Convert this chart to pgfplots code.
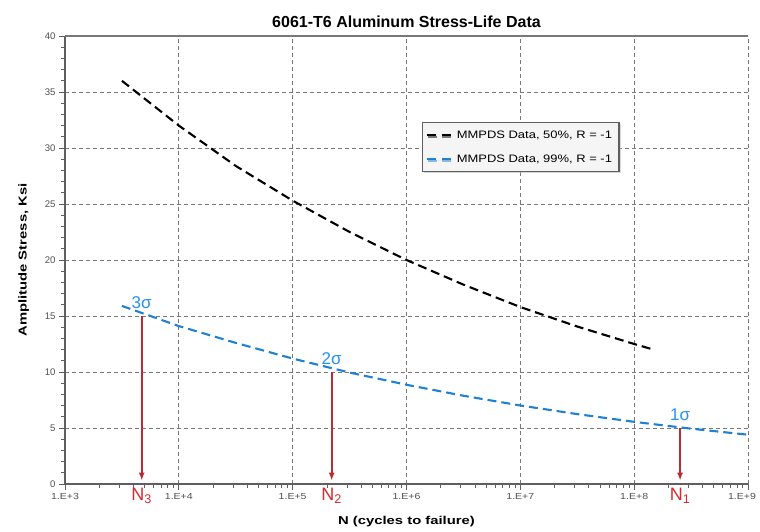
\documentclass[border=0pt]{standalone}
\usepackage{fontspec}
\setmainfont{Liberation Sans}
\newfontfamily\widefont{Liberation Sans}[FakeStretch=1.3]
\newfontfamily\legendfont{Liberation Sans}[FakeStretch=1.2]
\usepackage{pgfplots}
\pgfplotsset{compat=1.18}
\usetikzlibrary{arrows.meta,shadows}

\definecolor{curveblue}{RGB}{32,128,210}
\definecolor{sigmablue}{RGB}{40,145,235}
\definecolor{arrowred}{RGB}{185,45,50}
\definecolor{labelred}{RGB}{215,40,45}
\definecolor{axisgray}{RGB}{95,95,95}
\definecolor{gridgray}{RGB}{120,120,120}
\definecolor{ticktext}{RGB}{80,80,80}

\begin{document}
\begin{tikzpicture}
\useasboundingbox (-65pt,-48pt) rectangle (695pt,484pt);
\begin{axis}[
  at={(0,0)}, anchor=south west,
  scale only axis,
  width=683pt, height=448pt,
  clip=false,
  xmode=log,
  xmin=1e3, xmax=1e9,
  ymin=0, ymax=40,
  axis x line*=bottom,
  axis y line*=left,
  xtick={1e3,1e4,1e5,1e6,1e7,1e8,1e9},
  xticklabels={1.E+3,1.E+4,1.E+5,1.E+6,1.E+7,1.E+8,\hspace*{-12pt}1.E+9},
  ytick={0,5,...,40},
  minor y tick num=4,
  /pgf/number format/assume math mode=true,
  tick label style={font=\fontsize{9.6}{11}\selectfont, text=ticktext},
  xticklabel style={font=\legendfont\fontsize{8.8}{10}\selectfont},
  tick align=outside,
  major tick length=6pt,
  minor tick length=4pt,
  every tick/.style={axisgray, line width=0.8pt},
  axis line style={axisgray, line width=1.2pt},
  grid=major,
  major grid style={gridgray, dash pattern=on 4pt off 3pt, line width=0.9pt},
  title={\bfseries 6061-T6 Aluminum Stress-Life Data},
  title style={font=\fontsize{16}{18}\selectfont, yshift=-1pt},
  xlabel={\bfseries N (cycles to failure)},
  ylabel={\bfseries Amplitude Stress, Ksi},
  label style={font=\widefont\fontsize{11.4}{13}\selectfont},
  xlabel style={yshift=-10pt},
  ylabel style={yshift=9pt},
  legend style={
    at={(0.523,0.808)}, anchor=north west,
    fill=gray!8, draw=axisgray, line width=1.2pt,
    font=\legendfont\fontsize{10.8}{12}\selectfont,
    row sep=11pt, inner xsep=3pt, inner ysep=6pt,
    nodes={inner xsep=4pt},
    drop shadow={shadow xshift=1.5pt, shadow yshift=-1.5pt, fill=gray!60},
  },
  legend cell align=left,
  legend image code/.code={\draw[#1, line width=2pt, dash pattern=on 9pt off 6pt] (0pt,0pt) -- (25pt,0pt);},
]
% top frame edge (the right edge is the dashed 1E+9 grid line)
\draw[gridgray, line width=1.1pt] (rel axis cs:0,1) -- (rel axis cs:1,1);

% median (50%) S-N curve
\addplot[black, line width=2.1pt, dash pattern=on 9pt off 5pt] coordinates {
  (3162,36.0) (10000,32.0) (31623,28.4) (1e5,25.3) (316228,22.5)
  (1e6,20.0) (3162278,17.8) (1e7,15.8) (31622777,14.06) (1e8,12.5) (1.48e8,12.0)
};
\addlegendentry{MMPDS Data, 50\%, R = -1}
% 99% reliability S-N curve
\addplot[curveblue, line width=2.1pt, dash pattern=on 9pt off 5pt] coordinates {
  (3162,15.9) (10000,14.1) (31623,12.6) (1e5,11.2) (316228,9.95)
  (1e6,8.86) (3162278,7.88) (1e7,7.01) (31622777,6.24) (1e8,5.55)
  (316227766,4.94) (1e9,4.40)
};
\addlegendentry{MMPDS Data, 99\%, R = -1}

% life read-offs at 3, 2 and 1 sigma
\addplot[arrowred, line width=1.7pt, -{Latex[length=8pt,width=6pt]}, forget plot]
  coordinates {(4720,15) (4720,0.3)};
\addplot[arrowred, line width=1.7pt, -{Latex[length=8pt,width=6pt]}, forget plot]
  coordinates {(2.2e5,10) (2.2e5,0.3)};
\addplot[arrowred, line width=1.7pt, -{Latex[length=8pt,width=6pt]}, forget plot]
  coordinates {(2.53e8,5) (2.53e8,0.3)};

\node[sigmablue, font=\fontsize{17}{19}\selectfont, anchor=base, inner sep=0pt] at (axis cs:4720,15.65) {3σ};
\node[sigmablue, font=\fontsize{17}{19}\selectfont, anchor=base, inner sep=0pt] at (axis cs:2.2e5,10.65) {2σ};
\node[sigmablue, font=\fontsize{17}{19}\selectfont, anchor=base, inner sep=0pt] at (axis cs:2.53e8,5.65) {1σ};

\node[labelred, font=\fontsize{18}{20}\selectfont, anchor=north, inner sep=0pt] at (axis cs:4720,-0.35) {N\textsubscript{3}};
\node[labelred, font=\fontsize{18}{20}\selectfont, anchor=north, inner sep=0pt] at (axis cs:2.2e5,-0.35) {N\textsubscript{2}};
\node[labelred, font=\fontsize{18}{20}\selectfont, anchor=north, inner sep=0pt] at (axis cs:2.53e8,-0.35) {N\textsubscript{1}};
\end{axis}
\end{tikzpicture}
\end{document}
